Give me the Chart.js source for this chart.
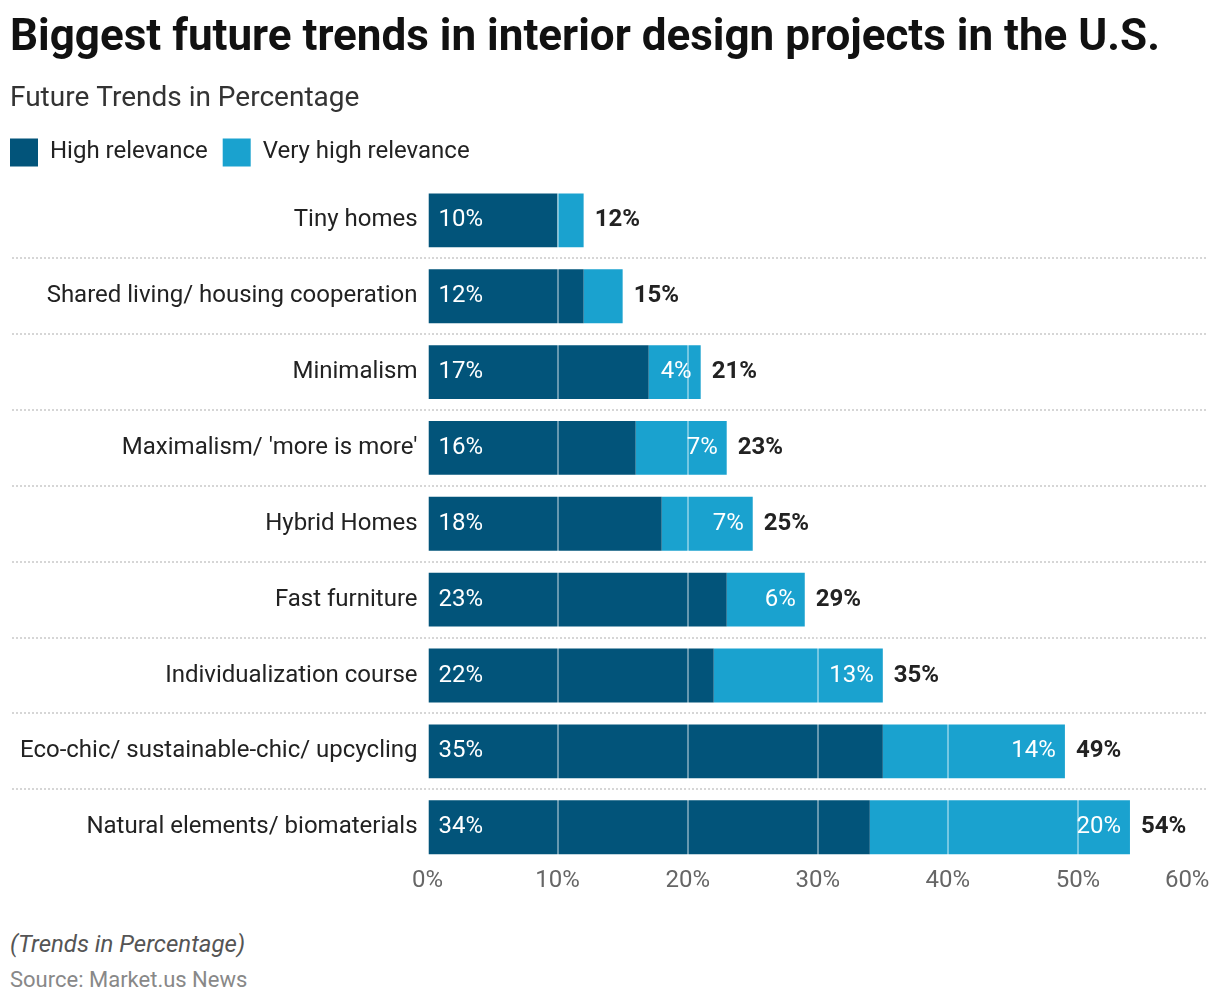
<!DOCTYPE html>
<html>
<head>
<meta charset="utf-8">
<script src="https://cdn.jsdelivr.net/npm/chart.js@4.4.1/dist/chart.umd.min.js"></script>
<style>
    body { margin: 0; background: #fff; font-family: Roboto, sans-serif; }
    #wrap { position: relative; width: 1220px; height: 910px; }
    .note { position: absolute; left: 10px; font-family: Roboto, sans-serif; line-height: 28px; }
    #note1 { top: 930px; font-size: 24px; font-style: italic; color: #555; }
    #note2 { top: 966px; font-size: 22px; color: #888; }
</style>
</head>
<body>
<div id="wrap"><canvas id="trendChart"></canvas></div>
<div class="note" id="note1">(Trends in Percentage)</div>
<div class="note" id="note2">Source: Market.us News</div>
<script>
/*
------------------------------------------------------------
데이터
------------------------------------------------------------
*/

const categories = [
    "Tiny homes",
    "Shared living/ housing cooperation",
    "Minimalism",
    "Maximalism/ 'more is more'",
    "Hybrid Homes",
    "Fast furniture",
    "Individualization course",
    "Eco-chic/ sustainable-chic/ upcycling",
    "Natural elements/ biomaterials"
];

const highRelevance = [10, 12, 17, 16, 18, 23, 22, 35, 34];

const veryHighRelevance = [2, 3, 4, 7, 7, 6, 13, 14, 20];

const xTicks = [0, 10, 20, 30, 40, 50, 60];

const DARK = "#02547a";
const LIGHT = "#1aa2cf";
const FONT = "Roboto";
const LEGEND_PAD = 15;

/*
------------------------------------------------------------
범례 위치 보정 + 구분선
------------------------------------------------------------
*/

const separatorPlugin = {
    id: "separators",
    beforeLayout(chart) {
        // 범례 아래 여백 조금 더
        const legend = chart.legend;
        if (legend && !legend._extraGap) {
            const baseFit = legend.fit;
            legend.fit = function () {
                baseFit.call(this);
                this.height += 6;
            };
            legend._extraGap = true;
        }
    },
    afterLayout(chart) {
        // 범례를 제목과 같은 왼쪽 선에 맞춤
        chart.legend.left = 10 - LEGEND_PAD;
    },
    beforeDatasetsDraw(chart) {
        const ctx = chart.ctx;
        const y = chart.scales.y;
        ctx.save();
        ctx.strokeStyle = "#d6d6d6";
        ctx.lineWidth = 2;
        ctx.setLineDash([2, 2]);
        for (let i = 0; i < categories.length - 1; i++) {
            const mid = Math.round((y.getPixelForTick(i) + y.getPixelForTick(i + 1)) / 2);
            ctx.beginPath();
            ctx.moveTo(12, mid);
            ctx.lineTo(1208, mid);
            ctx.stroke();
        }
        ctx.restore();
    }
};

/*
------------------------------------------------------------
값 라벨
------------------------------------------------------------
*/

const valueLabelPlugin = {
    id: "valueLabels",
    afterDraw(chart) {
        const ctx = chart.ctx;
        const high = chart.getDatasetMeta(0).data;
        const vhigh = chart.getDatasetMeta(1).data;
        ctx.save();
        ctx.textBaseline = "middle";
        for (let i = 0; i < categories.length; i++) {
            ctx.font = "24px " + FONT;
            ctx.fillStyle = "#ffffff";
            ctx.textAlign = "left";
            ctx.fillText(highRelevance[i] + "%", high[i].base + 10, high[i].y);
            if (veryHighRelevance[i] >= 4) {
                ctx.textAlign = "right";
                ctx.fillText(veryHighRelevance[i] + "%", vhigh[i].x - 9, vhigh[i].y);
            }
            ctx.font = "bold 24px " + FONT;
            ctx.fillStyle = "#222222";
            ctx.textAlign = "left";
            const total = highRelevance[i] + veryHighRelevance[i];
            ctx.fillText(total + "%", vhigh[i].x + 11, vhigh[i].y);
        }
        ctx.restore();
    }
};

/*
------------------------------------------------------------
그래프 생성
------------------------------------------------------------
*/

const ctx = document.getElementById("trendChart").getContext("2d");

new Chart(ctx, {
    type: "bar",
    data: {
        labels: categories,
        datasets: [
            {
                label: "High relevance",
                data: highRelevance,
                backgroundColor: DARK,
                barPercentage: 0.71,
                categoryPercentage: 1
            },
            {
                label: "Very high relevance",
                data: veryHighRelevance,
                backgroundColor: LIGHT,
                barPercentage: 0.71,
                categoryPercentage: 1
            }
        ]
    },
    options: {
        indexAxis: "y",
        responsive: true,
        maintainAspectRatio: false,
        animation: false,
        layout: { padding: { left: 10, right: 0, top: 0, bottom: 14 } },
        plugins: {
            title: {
                display: true,
                align: "start",
                text: "Biggest future trends in interior design projects in the U.S.",
                color: "#111",
                font: { family: FONT, size: 44, weight: "bold" },
                padding: { top: 13, bottom: 12 }
            },
            subtitle: {
                display: true,
                align: "start",
                text: "Future Trends in Percentage",
                color: "#333",
                font: { family: FONT, size: 28 },
                padding: { top: 4, bottom: 8 }
            },
            legend: {
                display: true,
                align: "start",
                labels: {
                    boxWidth: 28,
                    boxHeight: 28,
                    padding: LEGEND_PAD,
                    color: "#222",
                    font: { family: FONT, size: 24 }
                }
            },
            tooltip: { enabled: false }
        },
        scales: {
            x: {
                stacked: true,
                min: 0,
                max: 60,
                afterBuildTicks(scale) {
                    scale.ticks = xTicks.map(v => ({ value: v }));
                },
                afterFit(scale) {
                    // 마지막 눈금이 오른쪽 끝에 붙도록
                    scale.paddingRight = 12;
                },
                grid: {
                    z: 1,
                    color: "rgba(255,255,255,0.4)",
                    lineWidth: 2,
                    drawTicks: false
                },
                border: { display: false },
                ticks: {
                    padding: 1,
                    color: "#666",
                    font: { family: FONT, size: 24 },
                    // 마지막 라벨은 뒤 공백으로 왼쪽으로 밀기
                    callback: v => v === 60 ? v + "%       " : v + "%"
                }
            },
            y: {
                stacked: true,
                grid: { display: false, drawTicks: false },
                border: { display: false },
                ticks: {
                    padding: 10,
                    color: "#222",
                    font: { family: FONT, size: 24 }
                }
            }
        }
    },
    plugins: [separatorPlugin, valueLabelPlugin]
});
</script>
</body>
</html>
